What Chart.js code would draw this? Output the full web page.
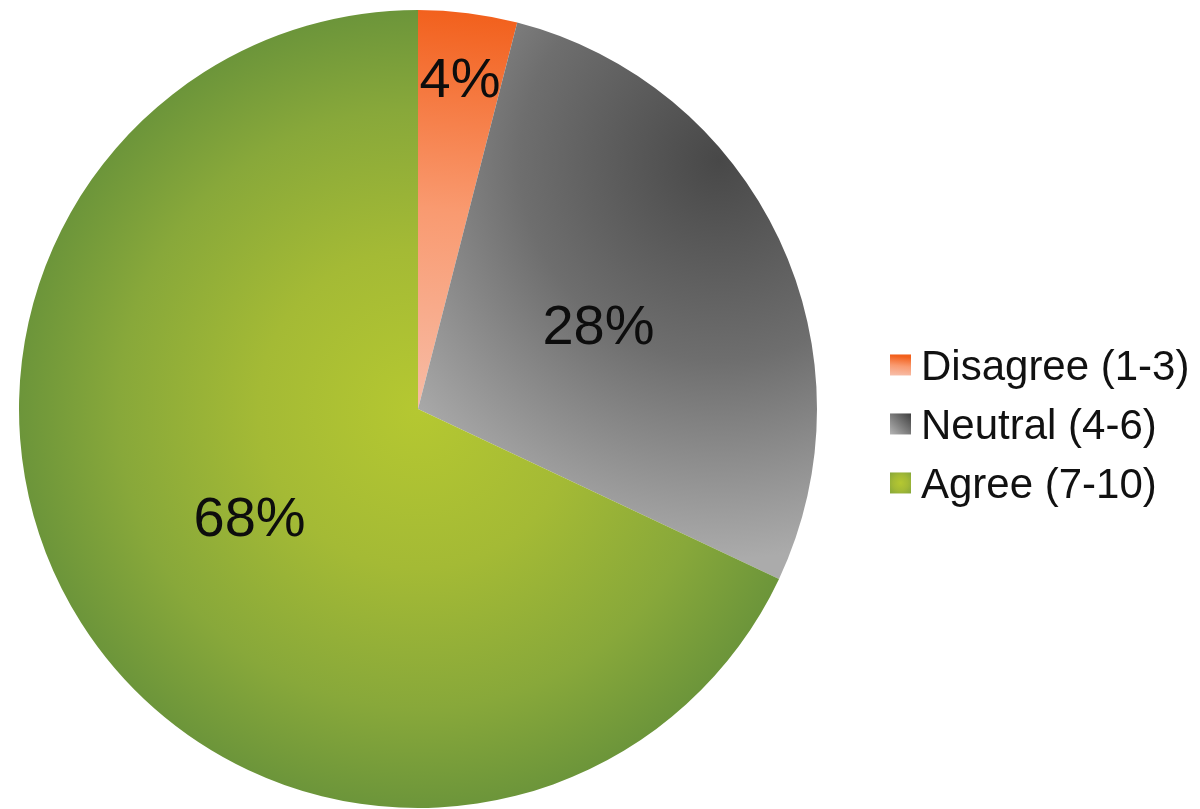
<!DOCTYPE html>
<html>
<head>
<meta charset="utf-8">
<script src="https://cdn.jsdelivr.net/npm/chart.js@4.4.1/dist/chart.umd.min.js"></script>
<style>
    html, body { margin: 0; padding: 0; background: #fff; }
    #wrap { width: 1200px; height: 809px; position: relative; }
</style>
</head>
<body>
<div id="wrap"><canvas id="pieChart" width="1200" height="809"></canvas></div>
<script>
// Survey answers, share of respondents in percent
const categories = ['Disagree (1-3)', 'Neutral (4-6)', 'Agree (7-10)'];
const shares = [4, 28, 68];

const FONT = "'Liberation Sans', Arial, Helvetica, sans-serif";

// ==========================================
// Gradient fills (one per slice)
// ==========================================
function sliceGradient(c, i, cx, cy, r) {
    let g;
    if (i === 0) {
        g = c.createLinearGradient(cx, cy, cx + r * 0.1, cy - r);
        g.addColorStop(0, '#f7bca6');
        g.addColorStop(0.5, '#f99a70');
        g.addColorStop(1, '#f2601c');
    } else if (i === 1) {
        const gx = cx + r * 0.755, gy = cy - r * 0.623;
        g = c.createRadialGradient(gx, gy, 0, gx, gy, r);
        g.addColorStop(0, '#484848');
        g.addColorStop(0.5, '#6e6e6e');
        g.addColorStop(1, '#ababab');
    } else {
        g = c.createRadialGradient(cx, cy, 0, cx, cy, r);
        g.addColorStop(0, '#b5c831');
        g.addColorStop(0.4, '#a4ba35');
        g.addColorStop(0.75, '#88a83a');
        g.addColorStop(1, '#6c953a');
    }
    return g;
}

function sliceColor(context) {
    const chart = context.chart;
    const area = chart.chartArea;
    if (!area) return '#999';
    const cx = (area.left + area.right) / 2;
    const cy = (area.top + area.bottom) / 2;
    const r = Math.min(area.right - area.left, area.bottom - area.top) / 2;
    return sliceGradient(chart.ctx, context.dataIndex, cx, cy, r);
}

// ==========================================
// Percent labels inside the slices
// ==========================================
const sliceLabels = {
    id: 'sliceLabels',
    afterDatasetsDraw(chart) {
        const c = chart.ctx;
        const meta = chart.getDatasetMeta(0);
        const size = 56;
        c.save();
        c.font = size + 'px ' + FONT;
        c.fillStyle = '#0d0d0d';
        c.textAlign = 'center';
        c.textBaseline = 'alphabetic';
        meta.data.forEach((arc, i) => {
            const mid = (arc.startAngle + arc.endAngle) / 2;
            // narrow slices get their label pushed out towards the rim
            const k = shares[i] < 10 ? 0.84 : 0.5;
            const x = arc.x + Math.cos(mid) * arc.outerRadius * k;
            const y = arc.y + Math.sin(mid) * arc.outerRadius * k;
            c.fillText(shares[i] + '%', x, y + size * 0.358);
        });
        c.restore();
    }
};

// ==========================================
// Legend on the right
// ==========================================
const sideLegend = {
    id: 'sideLegend',
    afterDraw(chart) {
        const c = chart.ctx;
        const size = 42;
        const box = 21;
        c.save();
        c.font = size + 'px ' + FONT;
        c.fillStyle = '#111';
        c.textBaseline = 'alphabetic';
        categories.forEach((label, i) => {
            const base = 380 + i * 59;
            const top = base - size * 0.358 - box / 2;
            const left = 890;
            c.save();
            c.fillStyle = sliceGradient(c, i, left + box / 2, top + box / 2 + (i === 0 ? box / 2 : 0), box * 0.9);
            if (i === 1) {
                const g = c.createLinearGradient(left + box, top, left, top + box);
                g.addColorStop(0, '#3f3f3f');
                g.addColorStop(1, '#b5b5b5');
                c.fillStyle = g;
            }
            c.fillRect(left, top, box, box);
            c.restore();
            c.fillText(label, 921, base);
        });
        c.restore();
    }
};

new Chart(document.getElementById('pieChart').getContext('2d'), {
    type: 'pie',
    data: {
        labels: categories,
        datasets: [{
            data: shares,
            backgroundColor: sliceColor,
            borderWidth: 0,
            hoverOffset: 0
        }]
    },
    options: {
        responsive: false,
        animation: false,
        layout: { padding: { left: 18, top: 10, right: 382, bottom: 1 } },
        plugins: {
            legend: { display: false },
            tooltip: { enabled: false }
        }
    },
    plugins: [sliceLabels, sideLegend]
});
</script>
</body>
</html>
